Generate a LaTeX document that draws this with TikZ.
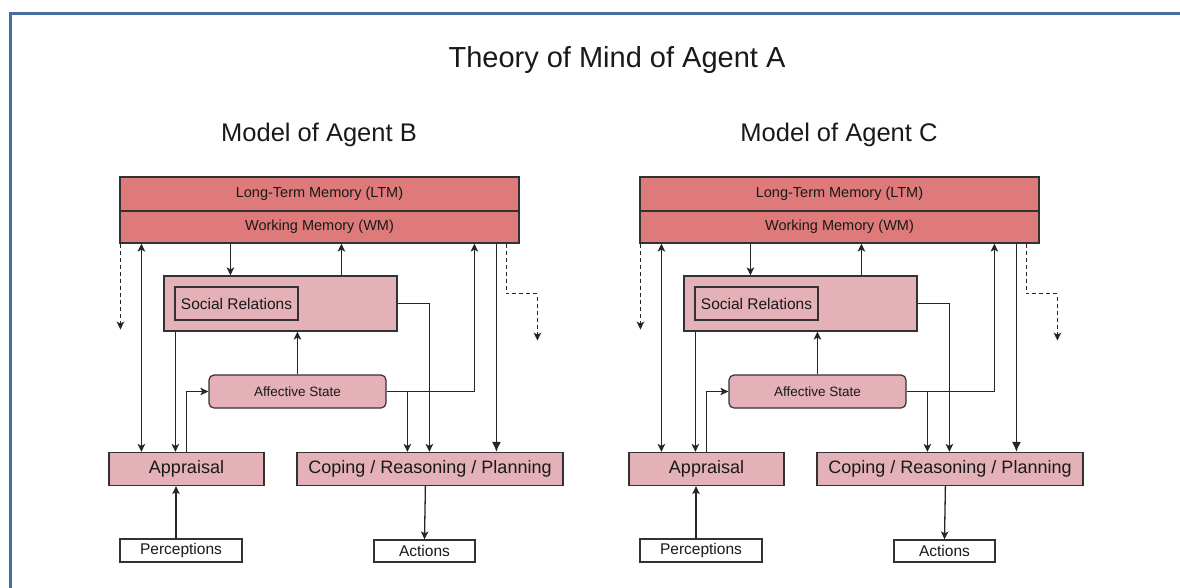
\documentclass[tikz,border=0pt]{standalone}
\usepackage{fontspec}
\setmainfont{Liberation Sans}
\usetikzlibrary{arrows.meta}
\definecolor{memred}{RGB}{222,122,122}
\definecolor{procpink}{RGB}{229,177,185}
\definecolor{framblue}{RGB}{72,110,160}
\definecolor{edgegray}{RGB}{50,50,50}
\begin{document}
\begin{tikzpicture}[x=1pt,y=-1pt,
  txt/.style={font=\fontsize{#1}{#1}\selectfont, text=black!90},
  memory/.style={draw=edgegray, line width=1.2pt, fill=memred, minimum width=399pt, inner sep=0pt},
  proc/.style={draw=edgegray, line width=1.2pt, fill=procpink, inner sep=0pt},
  io/.style={draw=edgegray, line width=1.2pt, fill=white, inner sep=0pt},
  link/.style={line width=1.3pt, draw=black!85},
  tip/.style={-{Stealth[length=8pt,width=7.5pt,inset=2pt]}},
  arr/.style={link, tip},
  bigarr/.style={link, -{Latex[length=10pt,width=9pt]}},
  dbl/.style={link, {Stealth[length=8pt,width=7.5pt,inset=2pt]}-{Stealth[length=8pt,width=7.5pt,inset=2pt]}},
  dasharr/.style={arr, dash pattern=on 4pt off 3pt},
]
\useasboundingbox (0,0) rectangle (1180,587);
\clip (0,0) rectangle (1180,587);

% outer frame
\draw[framblue, line width=3pt] (10,600) -- (10,13) -- (1195,13);

\node[txt=29] (title) at (617,60) {Theory of Mind of Agent A};

\foreach \o/\s/\lab in {0/b/B, 520/c/C} {
  \begin{scope}[xshift=\o pt]
    \node[txt=25.5] (head\s) at (319,135) {Model of Agent \lab};

    \node[memory, minimum height=34pt, txt=14.5] (ltm\s) at (319.5,194) {Long-Term Memory (LTM)};
    \node[memory, minimum height=32pt, txt=14.5] (wm\s) at (319.5,227) {Working Memory (WM)};

    \node[proc, minimum width=233pt, minimum height=55pt] (sr\s) at (280.5,303.5) {};
    \node[proc, minimum width=123pt, minimum height=33pt, txt=15.5] (srin\s) at (236.5,303.5) {Social Relations};
    \node[proc, rounded corners=5pt, minimum width=177pt, minimum height=33pt, txt=13.5] (aff\s) at (297.5,391.5) {Affective State};
    \node[proc, minimum width=155pt, minimum height=33pt, txt=18] (appr\s) at (186.5,469) {Appraisal};
    \node[proc, minimum width=266pt, minimum height=33pt, txt=18] (cope\s) at (430,469) {Coping / Reasoning / Planning};
    \node[io, minimum width=122pt, minimum height=23pt, txt=15.5] (perc\s) at (181,550.5) {Perceptions};
    \node[io, minimum width=101pt, minimum height=22pt, txt=15.5] (act\s) at (424.5,551) {Actions};

    % free ends of the dashed outflows
    \coordinate (dl\s) at ([xshift=1pt,yshift=-86pt]wm\s.south west);
    \coordinate (dr\s) at ([xshift=418pt,yshift=-97pt]wm\s.south west);

    % working memory <-> social relations
    \draw[arr] ([xshift=67pt]sr\s.north west |- wm\s.south) -- ([xshift=67pt]sr\s.north west);
    \draw[arr] ([xshift=178pt]sr\s.north west) -- ([xshift=178pt]sr\s.north west |- wm\s.south);

    % dashed outflows
    \draw[dasharr] (dl\s |- wm\s.south) -- (dl\s);
    \draw[dasharr] ([xshift=387pt]wm\s.south west) -- ++(0,50) -| (dr\s);

    % appraisal links
    \draw[dbl] ([xshift=33pt]appr\s.north west) -- ([xshift=33pt]appr\s.north west |- wm\s.south);
    \draw[arr] ([xshift=12pt]sr\s.south west) -- ([xshift=12pt]sr\s.south west |- appr\s.north);
    \draw[arr] ([xshift=78pt]appr\s.north west) |- (aff\s.west);
    \draw[arr] ([xshift=-5pt]perc\s.north) -- ([xshift=-5pt]perc\s.north |- appr\s.south);

    % affective state links
    \draw[arr] ([xshift=89pt]aff\s.north west) -- ([xshift=89pt]aff\s.north west |- sr\s.south);
    \draw[arr] (aff\s.east) -| ([xshift=355pt]wm\s.south west);
    \draw[arr] ([xshift=111pt]cope\s.north west |- aff\s.east) -- ([xshift=111pt]cope\s.north west);

    % coping inputs and output
    \draw[arr] (sr\s.east) -| ([xshift=133pt]cope\s.north west);
    \draw[bigarr] ([xshift=377pt]wm\s.south west) -- ([xshift=200pt]cope\s.north west);
    \draw[arr] ([xshift=129pt]cope\s.south west) -- (act\s.north);
  \end{scope}
}
\end{tikzpicture}
\end{document}
